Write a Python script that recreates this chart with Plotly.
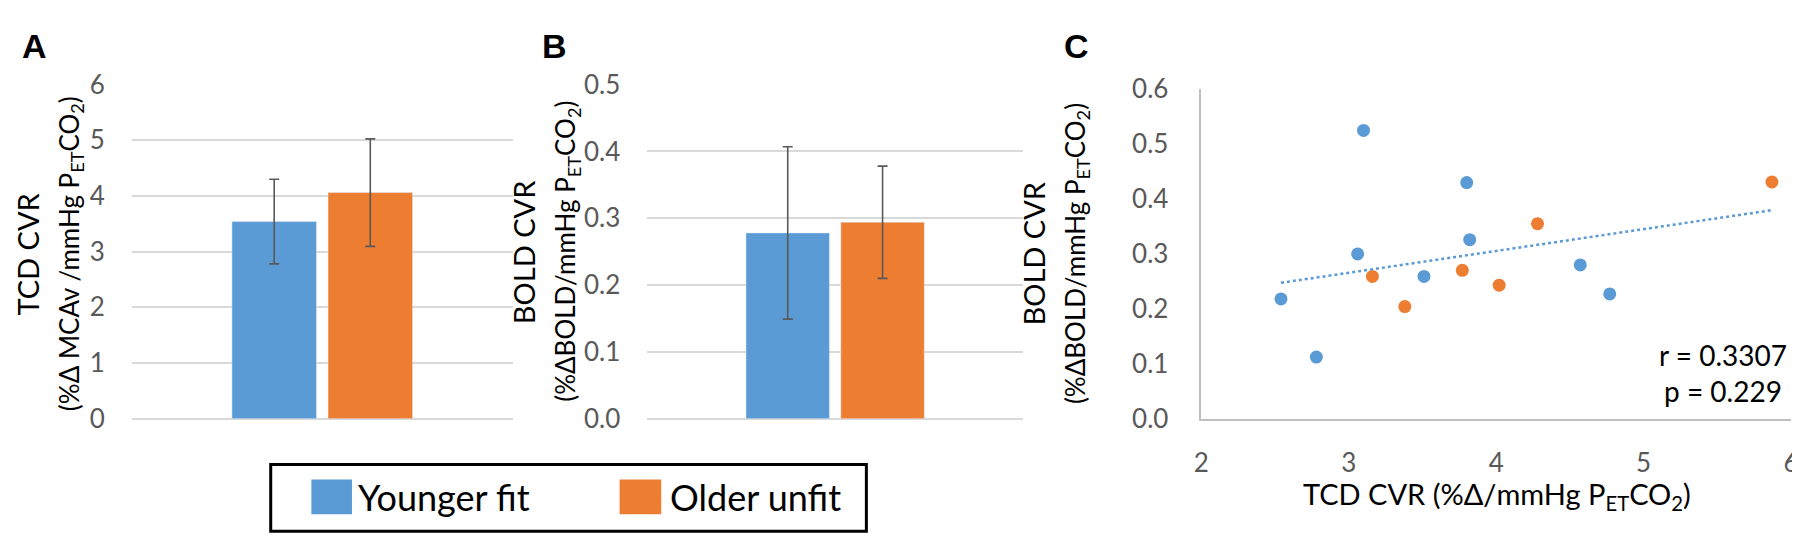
import plotly.graph_objects as go
import numpy as np

groups = ['Younger fit', 'Older unfit']
colors = ['#5b9bd5', '#ed7d31']

# panel A: TCD CVR, mean and error
tcd_mean = [3.54, 4.06]
tcd_err = [0.76, 0.965]

# panel B: BOLD CVR, mean and error
bold_mean = [0.278, 0.294]
bold_err = [0.129, 0.084]

# panel C: individual subjects
young_x = [2.54, 2.78, 3.06, 3.10, 3.51, 3.80, 3.82, 4.57, 4.77]
young_y = [0.218, 0.112, 0.300, 0.525, 0.259, 0.430, 0.326, 0.280, 0.227]
old_x = [3.16, 3.38, 3.77, 4.02, 4.28, 5.87]
old_y = [0.259, 0.204, 0.270, 0.243, 0.355, 0.431]

W, H = 1800, 541
font = 'Lato, "Open Sans", sans-serif'
tick_font = dict(family=font, size=26, color='#595959')
grid = '#d9d9d9'


def px(x):
    return x / W


def py(y):
    return 1 - y / H


fig = go.Figure()

for i, g in enumerate(groups):
    fig.add_trace(go.Bar(
        x=['c'], y=[tcd_mean[i]], name=g, marker_color=colors[i],
        error_y=dict(type='data', array=[tcd_err[i]], color='#595959', thickness=1.6, width=5),
        xaxis='x', yaxis='y', showlegend=False))
    fig.add_trace(go.Bar(
        x=['c'], y=[bold_mean[i]], name=g, marker_color=colors[i],
        error_y=dict(type='data', array=[bold_err[i]], color='#595959', thickness=1.6, width=5),
        xaxis='x2', yaxis='y2', showlegend=False))

fig.add_trace(go.Scatter(x=young_x, y=young_y, mode='markers', name=groups[0],
                         marker=dict(color=colors[0], size=13), xaxis='x3', yaxis='y3', showlegend=False))
fig.add_trace(go.Scatter(x=old_x, y=old_y, mode='markers', name=groups[1],
                         marker=dict(color=colors[1], size=13), xaxis='x3', yaxis='y3', showlegend=False))

# linear trendline over all subjects
all_x = np.array(young_x + old_x)
all_y = np.array(young_y + old_y)
slope, icpt = np.polyfit(all_x, all_y, 1)
tx = np.array([all_x.min(), all_x.max()])
fig.add_trace(go.Scatter(x=tx, y=slope * tx + icpt, mode='lines',
                         line=dict(color='#5b9bd5', width=2.5, dash='dot'),
                         xaxis='x3', yaxis='y3', showlegend=False))

ydom = [py(418.5), py(63.3)]
bar_x = dict(showticklabels=False, showgrid=False, zeroline=False, showline=False, ticks='')

fig.update_layout(
    width=W, height=H,
    margin=dict(l=0, r=0, t=0, b=0),
    paper_bgcolor='white', plot_bgcolor='white',
    barmode='group', bargap=0.495, bargroupgap=0.12,
    xaxis=dict(domain=[px(117), px(501)], **bar_x),
    yaxis=dict(domain=ydom, range=[0, 6], dtick=1, showgrid=True, gridcolor=grid, gridwidth=1.5,
               zeroline=True, zerolinecolor=grid, zerolinewidth=1.5, tickfont=tick_font,
               ticklabelstandoff=26),
    xaxis2=dict(domain=[px(637), px(1016)], anchor='y2', **bar_x),
    yaxis2=dict(domain=ydom, anchor='x2', range=[0, 0.5], dtick=0.1, tickformat='.1f',
                showgrid=True, gridcolor=grid, gridwidth=1.5,
                zeroline=True, zerolinecolor=grid, zerolinewidth=1.5, tickfont=tick_font,
                ticklabelstandoff=26),
    xaxis3=dict(domain=[px(1196), px(1791)], anchor='y3', range=[2, 6], dtick=1,
                showgrid=False, zeroline=False, showline=True, linecolor='#bfbfbf', linewidth=1.5,
                tickfont=tick_font, ticklabelstandoff=20),
    yaxis3=dict(domain=[py(418.3), py(68.3)], anchor='x3', range=[0, 0.6], dtick=0.1, tickformat='.1f',
                showgrid=False, zeroline=False, showline=True, linecolor='#bfbfbf', linewidth=1.5,
                tickfont=tick_font, ticklabelstandoff=26),
)

ann = []
line1_font = dict(family=font, size=29, color='black')
line2_font = dict(family=font, size=26, color='black')


def label(text, x, y, fnt, angle=0, xanchor='center'):
    ann.append(dict(text=text, x=px(x), y=py(y), xref='paper', yref='paper', textangle=angle,
                    xanchor=xanchor, yanchor='middle', showarrow=False, font=fnt))


# panel letters
for letter, xc in [('A', 19), ('B', 543), ('C', 1070)]:
    label('<b>%s</b>' % letter, xc, 22, dict(family='Liberation Sans, Arial', size=34, color='black'))

ytitles = [
    (12, 55, 'TCD CVR', '(%Δ MCAv /mmHg P<sub>ET</sub>CO<sub>2</sub>)', 243),
    (512, 556, 'BOLD CVR', '(%ΔBOLD/mmHg P<sub>ET</sub>CO<sub>2</sub>)', 241),
    (1027, 1070, 'BOLD CVR', '(%ΔBOLD/mmHg P<sub>ET</sub>CO<sub>2</sub>)', 243),
]
for x1, x2, l1, l2, yc in ytitles:
    label(l1, x1, yc, line1_font, angle=-90)
    label(l2, x2, yc, line2_font, angle=-90)

label('TCD CVR (%Δ/mmHg P<sub>ET</sub>CO<sub>2</sub>)', 1494, 500, line1_font)
ann.append(dict(text='r = 0.3307<br>p = 0.229', x=px(1722), y=py(370), xref='paper', yref='paper',
                xanchor='center', yanchor='middle', showarrow=False, align='center',
                font=dict(family=font, size=28, color='black')))

# legend box
legend_font = dict(family=font, size=36, color='black')
label(groups[0], 343, 502, legend_font, xanchor='left')
label(groups[1], 658, 502, legend_font, xanchor='left')

shapes = [
    dict(type='rect', xref='paper', yref='paper', x0=px(257), x1=px(858), y0=py(538), y1=py(467),
         line=dict(color='black', width=3)),
    dict(type='rect', xref='paper', yref='paper', x0=px(298), x1=px(339), y0=py(520), y1=py(483),
         line=dict(width=0), fillcolor=colors[0]),
    dict(type='rect', xref='paper', yref='paper', x0=px(609), x1=px(651), y0=py(520), y1=py(483),
         line=dict(width=0), fillcolor=colors[1]),
]

fig.update_layout(annotations=ann, shapes=shapes)

fig.write_html('out.html')
